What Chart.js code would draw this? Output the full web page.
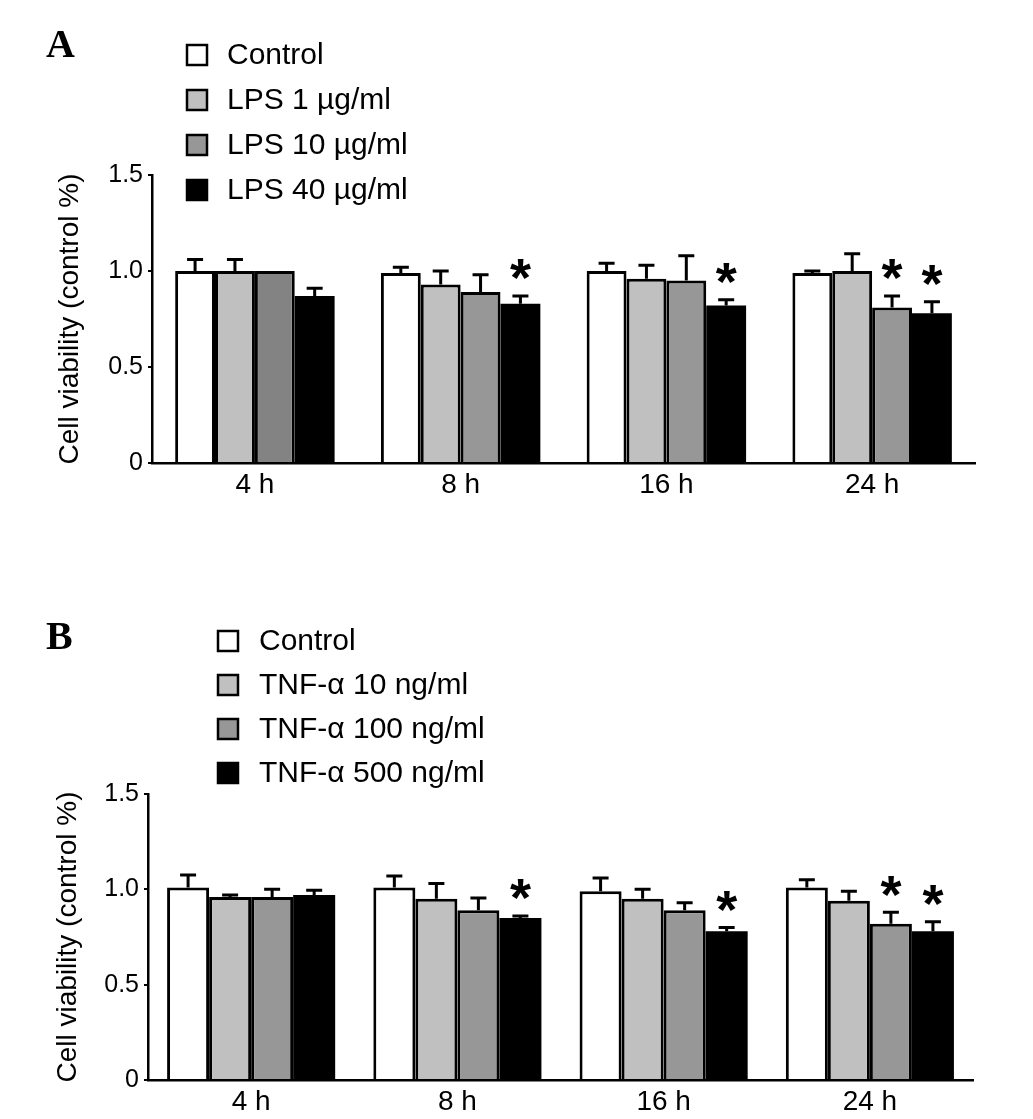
<!DOCTYPE html>
<html lang="en">
<head>
<meta charset="UTF-8">
<title>Cell viability</title>
<script src="https://cdn.jsdelivr.net/npm/chart.js"></script>
<style>
  html, body { margin: 0; padding: 0; background: #fff; }
  .page { position: relative; width: 1033px; height: 1119px; overflow: hidden; }
  .panel { position: absolute; left: 0; width: 1033px; }
  #panelA { top: 0; height: 560px; }
  #panelB { top: 560px; height: 559px; }
  canvas { display: block; }
  .letter {
    position: absolute;
    font-family: "Liberation Serif", "Times New Roman", serif;
    font-weight: bold;
    font-size: 40px;
    line-height: 40px;
  }
</style>
</head>
<body>
<div class="page">
  <div class="panel" id="panelA">
    <canvas id="chartA" width="1033" height="560"></canvas>
    <div class="letter" style="left:46px; top:24px;">A</div>
  </div>
  <div class="panel" id="panelB">
    <canvas id="chartB" width="1033" height="559"></canvas>
    <div class="letter" style="left:46px; top:56px;">B</div>
  </div>
</div>

<script>
// categories and axis
const timePoints = ['4 h', '8 h', '16 h', '24 h'];
const yTicks = [0, 0.5, 1.0, 1.5];

// panel A - LPS
const lpsLabels = ['Control', 'LPS 1 µg/ml', 'LPS 10 µg/ml', 'LPS 40 µg/ml'];
const lpsControl = [1.00, 0.99, 1.00, 0.99];
const lps1 = [1.00, 0.93, 0.96, 1.00];
const lps10 = [1.00, 0.89, 0.95, 0.81];
const lps40 = [0.87, 0.83, 0.82, 0.78];
const lpsControlErr = [0.06, 0.03, 0.04, 0.01];
const lps1Err = [0.06, 0.07, 0.07, 0.09];
const lps10Err = [0.00, 0.09, 0.13, 0.06];
const lps40Err = [0.04, 0.04, 0.03, 0.06];
const lps10Sig = [false, false, false, true];
const lps40Sig = [false, true, true, true];

// panel B - TNF-a
const tnfLabels = ['Control', 'TNF-α 10 ng/ml', 'TNF-α 100 ng/ml', 'TNF-α 500 ng/ml'];
const tnfControl = [1.01, 1.01, 0.99, 1.01];
const tnf10 = [0.96, 0.95, 0.95, 0.94];
const tnf100 = [0.96, 0.89, 0.89, 0.82];
const tnf500 = [0.97, 0.85, 0.78, 0.78];
const tnfControlErr = [0.065, 0.06, 0.07, 0.04];
const tnf10Err = [0.01, 0.08, 0.05, 0.05];
const tnf100Err = [0.04, 0.065, 0.04, 0.06];
const tnf500Err = [0.025, 0.01, 0.02, 0.05];
const tnf100Sig = [false, false, false, true];
const tnf500Sig = [false, true, true, true];

const FONT = '"Liberation Sans", Arial, sans-serif';
const noSig = [false, false, false, false];

// error bars (upper only) and asterisks
const errorBarPlugin = {
    id: 'errorBars',
    afterDatasetsDraw(chart) {
        const ctx = chart.ctx;
        const yScale = chart.scales.y;
        ctx.save();
        chart.data.datasets.forEach((ds, i) => {
            const meta = chart.getDatasetMeta(i);
            meta.data.forEach((bar, j) => {
                const err = ds.errors[j];
                const top = yScale.getPixelForValue(ds.data[j] + err);
                ctx.strokeStyle = '#000';
                ctx.lineWidth = 3;
                if (err > 0) {
                    ctx.beginPath();
                    ctx.moveTo(bar.x, bar.y);
                    ctx.lineTo(bar.x, top);
                    ctx.moveTo(bar.x - 8, top);
                    ctx.lineTo(bar.x + 8, top);
                    ctx.stroke();
                }
                if (ds.stars[j]) {
                    const size = 54;
                    ctx.fillStyle = '#000';
                    ctx.font = 'bold ' + size + 'px ' + FONT;
                    ctx.textAlign = 'center';
                    ctx.textBaseline = 'alphabetic';
                    ctx.fillText('*', bar.x, top - 31 + 0.58 * size);
                }
            });
        });
        ctx.restore();
    }
};

// vertical legend with square swatches
const boxLegendPlugin = {
    id: 'boxLegend',
    afterDraw(chart, args, opts) {
        const ctx = chart.ctx;
        ctx.save();
        ctx.font = '30px ' + FONT;
        ctx.textBaseline = 'middle';
        ctx.textAlign = 'left';
        chart.data.datasets.forEach((ds, i) => {
            const cy = opts.y + i * opts.gap;
            const fill = Array.isArray(ds.backgroundColor) ? ds.backgroundColor[1] : ds.backgroundColor;
            ctx.fillStyle = fill;
            ctx.fillRect(opts.x, cy - 10, 20, 20);
            ctx.strokeStyle = '#000';
            ctx.lineWidth = 2.5;
            ctx.strokeRect(opts.x, cy - 10, 20, 20);
            ctx.fillStyle = '#000';
            ctx.fillText(ds.label, opts.textX, cy + 1);
        });
        ctx.restore();
    }
};

function makeDataset(label, data, errors, stars, color) {
    return {
        label: label,
        data: data,
        errors: errors,
        stars: stars,
        backgroundColor: color,
        borderColor: '#000',
        borderWidth: color === '#000000' ? 0 : 3,
        borderSkipped: 'start'
    };
}

function makeChart(canvasId, datasets, layout, catPct, legendPos) {
    const ctx = document.getElementById(canvasId).getContext('2d');
    return new Chart(ctx, {
        type: 'bar',
        data: { labels: timePoints, datasets: datasets },
        options: {
            responsive: false,
            animation: false,
            devicePixelRatio: 1,
            layout: { padding: layout.padding },
            datasets: { bar: { categoryPercentage: catPct, barPercentage: 1.0 } },
            plugins: {
                legend: { display: false },
                tooltip: { enabled: false },
                boxLegend: legendPos
            },
            scales: {
                x: {
                    afterFit: s => { s.height = layout.xHeight; },
                    ticks: { color: '#000', font: { size: 28, family: FONT }, padding: 5, maxRotation: 0 },
                    grid: { display: false, drawTicks: false },
                    border: { display: true, color: '#000', width: 2.5 }
                },
                y: {
                    min: 0,
                    max: 1.5,
                    afterBuildTicks: s => { s.ticks = yTicks.map(v => ({ value: v })); },
                    afterFit: s => { s.width = layout.yWidth; },
                    ticks: {
                        color: '#000',
                        font: { size: 25, family: FONT },
                        padding: 5,
                        callback: v => v === 0 ? '0' : Number(v).toFixed(1)
                    },
                    grid: { display: true, drawOnChartArea: false, drawTicks: true, tickLength: 4, color: '#000', lineWidth: 2 },
                    border: { display: true, color: '#000', width: 2.5 },
                    title: {
                        display: true,
                        text: 'Cell viability (control %)',
                        color: '#000',
                        font: { size: 28, family: FONT },
                        padding: { top: 3, bottom: 0 }
                    }
                }
            }
        },
        plugins: [errorBarPlugin, boxLegendPlugin]
    });
}

makeChart('chartA', [
    makeDataset(lpsLabels[0], lpsControl, lpsControlErr, noSig, '#ffffff'),
    makeDataset(lpsLabels[1], lps1, lps1Err, noSig, '#c0c0c0'),
    makeDataset(lpsLabels[2], lps10, lps10Err, lps10Sig, ['#838383', '#979797', '#979797', '#979797']),
    makeDataset(lpsLabels[3], lps40, lps40Err, lps40Sig, '#000000')
], { padding: { left: 50, right: 58, top: 175, bottom: 57 }, xHeight: 40, yWidth: 102 }, 0.775,
   { x: 187, y: 55, gap: 45, textX: 227 });

makeChart('chartB', [
    makeDataset(tnfLabels[0], tnfControl, tnfControlErr, noSig, '#ffffff'),
    makeDataset(tnfLabels[1], tnf10, tnf10Err, noSig, '#c0c0c0'),
    makeDataset(tnfLabels[2], tnf100, tnf100Err, tnf100Sig, '#979797'),
    makeDataset(tnfLabels[3], tnf500, tnf500Err, tnf500Sig, '#000000')
], { padding: { left: 48, right: 60, top: 234, bottom: 3 }, xHeight: 36, yWidth: 100 }, 0.815,
   { x: 218, y: 81, gap: 44, textX: 259 });
</script>
</body>
</html>
